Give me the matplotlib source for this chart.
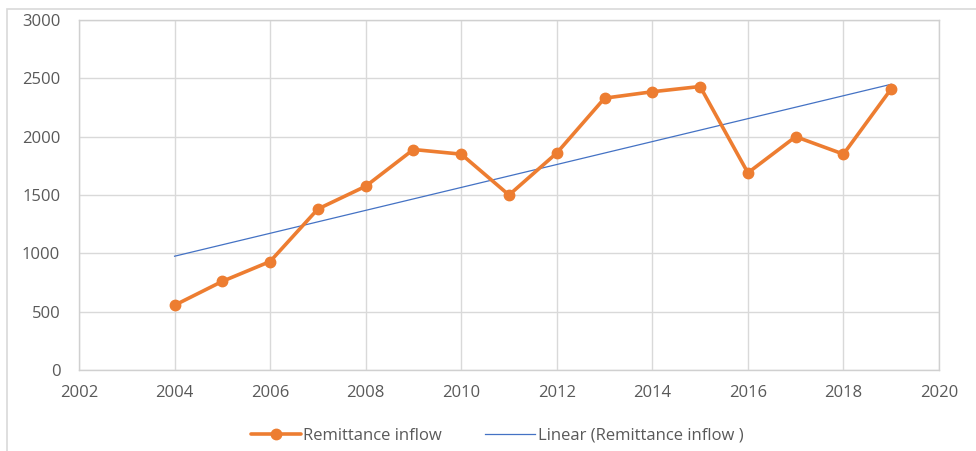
import matplotlib
matplotlib.use("Agg")
import matplotlib.pyplot as plt
import numpy as np
from matplotlib.patches import Rectangle

years = [2004, 2005, 2006, 2007, 2008, 2009, 2010, 2011, 2012, 2013, 2014, 2015, 2016, 2017, 2018, 2019]
inflow = [555, 760, 930, 1380, 1575, 1890, 1850, 1500, 1860, 2330, 2385, 2430, 1690, 2000, 1850, 2410]
x_ticks = [2002, 2004, 2006, 2008, 2010, 2012, 2014, 2016, 2018, 2020]
y_ticks = [0, 500, 1000, 1500, 2000, 2500, 3000]

plt.rcParams['font.family'] = ['Open Sans', 'DejaVu Sans']

fig = plt.figure(figsize=(9.76, 4.51), dpi=100)
ax = fig.add_axes([79/976, 1-370/451, (939-79)/976, (370-20)/451])

# figure border
fig.patches.append(Rectangle((7/976, -0.1), 1.2, 1-9/451+0.1, transform=fig.transFigure,
                             fill=False, edgecolor='#d9d9d9', linewidth=1.2, zorder=0))

x = np.array(years, dtype=float)
y = np.array(inflow, dtype=float)
m, b = np.polyfit(x, y, 1)

ax.plot(years, inflow, color='#ED7D31', linewidth=2.6, marker='o', markersize=7.5,
        label='Remittance inflow', zorder=3, solid_capstyle='round')
ax.plot(x, m * x + b, color='#4472C4', linewidth=0.9, label='Linear (Remittance inflow )', zorder=2)

ax.set_xlim(2002, 2020)
ax.set_ylim(0, 3000)
ax.set_xticks(x_ticks)
ax.set_yticks(y_ticks)
ax.grid(True, color='#d9d9d9', linewidth=1)
ax.set_axisbelow(True)
for s in ax.spines.values():
    s.set_color('#d0d0d0')
    s.set_linewidth(1)
ax.tick_params(length=0, labelsize=12, labelcolor='#595959')
ax.tick_params(axis='x', pad=11)
ax.tick_params(axis='y', pad=13.5)

leg = fig.legend(loc='center', bbox_to_anchor=(497/976, 1-436/451), ncol=2, frameon=False,
                 fontsize=12, labelcolor='#595959', columnspacing=2.6, handlelength=3.0,
                 handletextpad=0.15)

fig.savefig('out.png', dpi=100)
